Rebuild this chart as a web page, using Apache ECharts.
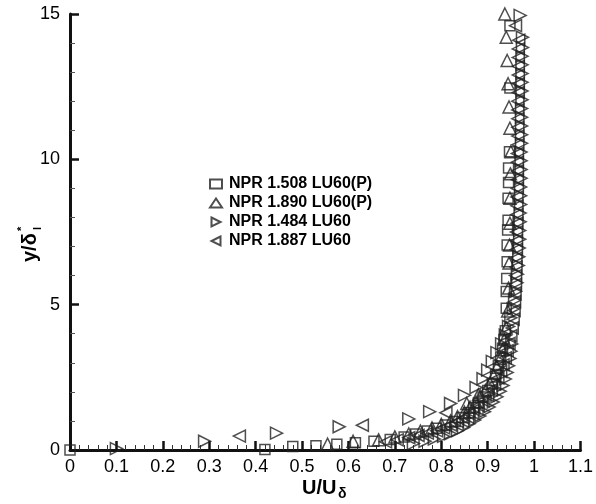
<!DOCTYPE html>
<html>
<head>
<meta charset="utf-8">
<script src="https://cdn.jsdelivr.net/npm/echarts@6/dist/echarts.min.js"></script>
<style>
  html, body { margin: 0; padding: 0; background: #fff; }
  #chart { width: 596px; height: 504px; }
</style>
</head>
<body>
<div id="chart"></div>
<script>
// Velocity profiles: [U/U_delta, y/delta*_l]
const seriesNames = ['NPR 1.508 LU60(P)', 'NPR 1.890 LU60(P)', 'NPR 1.484 LU60', 'NPR 1.887 LU60'];

const npr1508P = [
  [0.0, 0.0], [0.42, 0.02], [0.48, 0.12], [0.53, 0.15], [0.575, 0.2], [0.615, 0.25],
  [0.655, 0.3], [0.69, 0.36], [0.72, 0.45], [0.745, 0.55], [0.77, 0.65], [0.79, 0.75],
  [0.81, 0.86], [0.83, 0.98], [0.845, 1.12], [0.86, 1.28], [0.87, 1.45], [0.88, 1.62],
  [0.89, 1.82], [0.9, 2.05], [0.91, 2.3], [0.917, 2.6], [0.923, 2.9], [0.928, 3.2],
  [0.932, 3.5], [0.935, 3.8], [0.938, 4.1], [0.94, 4.88], [0.94, 5.45], [0.941, 5.9],
  [0.942, 6.48], [0.942, 7.05], [0.943, 7.57], [0.944, 7.9], [0.944, 8.66], [0.945, 9.2],
  [0.945, 9.7], [0.947, 10.26], [0.948, 12.45], [0.948, 14.6]
];

const npr1890P = [
  [0.555, 0.2], [0.61, 0.3], [0.665, 0.35], [0.70, 0.45], [0.73, 0.55], [0.755, 0.65],
  [0.78, 0.76], [0.8, 0.88], [0.82, 1.0], [0.835, 1.15], [0.85, 1.3], [0.862, 1.47],
  [0.855, 1.6], [0.88, 1.9], [0.875, 1.65], [0.885, 1.85], [0.895, 2.05], [0.905, 2.3],
  [0.913, 2.55], [0.92, 2.85], [0.927, 3.15], [0.932, 3.45], [0.936, 3.8], [0.94, 4.2],
  [0.943, 4.78], [0.945, 5.57], [0.946, 6.43], [0.947, 7.05], [0.948, 7.8], [0.948, 8.66],
  [0.949, 9.5], [0.95, 10.26], [0.948, 11.07], [0.946, 11.8], [0.944, 12.6], [0.942, 13.4],
  [0.94, 14.2], [0.937, 15.0]
];

const npr1484 = [
  [0.10, 0.05], [0.29, 0.30], [0.445, 0.58], [0.58, 0.80], [0.73, 1.07], [0.775, 1.32],
  [0.74, 0.22], [0.765, 0.3], [0.785, 0.38], [0.805, 0.47], [0.82, 0.56], [0.835, 0.66],
  [0.848, 0.77], [0.86, 0.9], [0.872, 1.03], [0.883, 1.17], [0.893, 1.32], [0.903, 1.48],
  [0.912, 1.65], [0.92, 1.83], [0.927, 2.02], [0.933, 2.22], [0.938, 2.44], [0.942, 2.67],
  [0.945, 2.9], [0.948, 3.15], [0.95, 3.4], [0.952, 3.65],
  [0.82, 1.60], [0.85, 1.88], [0.875, 2.15], [0.89, 2.45], [0.9, 2.75], [0.91, 3.05],
  [0.92, 3.35], [0.93, 3.65], [0.938, 3.95], [0.945, 4.25], [0.95, 4.55], [0.955, 4.85],
  [0.958, 5.15], [0.96, 5.45], [0.963, 5.75], [0.964, 6.05], [0.966, 6.35], [0.967, 6.65],
  [0.968, 6.95], [0.969, 7.25], [0.969, 7.55], [0.97, 7.85], [0.97, 8.15], [0.971, 8.45],
  [0.971, 8.75], [0.971, 9.05], [0.972, 9.35], [0.972, 9.65], [0.972, 9.95], [0.972, 10.25],
  [0.973, 10.55], [0.973, 10.85], [0.973, 11.15], [0.973, 11.45], [0.973, 11.75], [0.974, 12.05],
  [0.974, 12.35], [0.974, 12.65], [0.974, 12.95], [0.974, 13.25], [0.974, 13.55], [0.975, 13.85],
  [0.975, 14.2], [0.97, 14.95]
];

const npr1887 = [
  [0.365, 0.48], [0.63, 0.85], [0.81, 1.28], [0.68, 0.28], [0.705, 0.35], [0.73, 0.42],
  [0.75, 0.5], [0.77, 0.58], [0.79, 0.66], [0.805, 0.76], [0.82, 0.86], [0.835, 0.98],
  [0.848, 1.1], [0.86, 1.24], [0.87, 1.38], [0.88, 1.53], [0.89, 1.7], [0.9, 1.88],
  [0.908, 2.07], [0.915, 2.27], [0.922, 2.48], [0.928, 2.7], [0.933, 2.93], [0.938, 3.17],
  [0.942, 3.42], [0.946, 3.67], [0.95, 3.93], [0.953, 4.2], [0.955, 4.5], [0.957, 4.8],
  [0.958, 5.1], [0.959, 5.4], [0.96, 5.7], [0.96, 6.0], [0.961, 6.3], [0.961, 6.6],
  [0.962, 6.9], [0.962, 7.2], [0.962, 7.5], [0.963, 7.8], [0.963, 8.1], [0.963, 8.4],
  [0.963, 8.7], [0.964, 9.0], [0.964, 9.3], [0.964, 9.6], [0.964, 9.9], [0.964, 10.2],
  [0.965, 10.5], [0.965, 10.8], [0.965, 11.1], [0.965, 11.4], [0.965, 11.7], [0.965, 12.0],
  [0.966, 12.3], [0.966, 12.6], [0.966, 12.9], [0.966, 13.2], [0.966, 13.5], [0.966, 13.8],
  [0.967, 14.1], [0.96, 14.6]
];

const xTickLabels = ['0', '0.1', '0.2', '0.3', '0.4', '0.5', '0.6', '0.7', '0.8', '0.9', '1', '1.1'];
const yTickLabels = ['0', '5', '10', '15'];

const FONT = 'Liberation Sans, Arial, sans-serif';
const INK = '#111';

const rightTri = 'path://M0,0L10,5L0,10Z';
const leftTri = 'path://M10,0L0,5L10,10Z';
const symbols = ['rect', 'triangle', rightTri, leftTri];
const sizes = [10, 12, 12, 12];
const datasets = [npr1508P, npr1890P, npr1484, npr1887];

const chart = echarts.init(document.getElementById('chart'), null, { renderer: 'canvas' });

const option = {
  backgroundColor: '#fff',
  animation: false,
  grid: { left: 70, right: 14, top: 14, bottom: 54, containLabel: false },
  legend: {
    orient: 'vertical',
    left: 204,
    top: 171,
    itemGap: 3,
    itemWidth: 12,
    itemHeight: 9,
    data: seriesNames,
    textStyle: { fontFamily: FONT, fontWeight: 'bold', fontSize: 16, color: '#000', padding: [0, 0, 0, 2] }
  },
  xAxis: {
    type: 'value',
    min: 0, max: 1.1, interval: 0.1,
    axisLine: { show: true, onZero: false, lineStyle: { color: INK, width: 3 } },
    axisTick: { show: true, inside: true, length: 9, lineStyle: { color: INK, width: 2.5 } },
    minorTick: { show: true, splitNumber: 5, length: 5, lineStyle: { color: '#333', width: 1 } },
    splitLine: { show: false },
    axisLabel: {
      margin: 8, color: '#000', fontFamily: FONT, fontSize: 18,
      formatter: v => xTickLabels[Math.round(v * 10)]
    }
  },
  yAxis: {
    type: 'value',
    min: 0, max: 15, interval: 5,
    axisLine: { show: true, onZero: false, lineStyle: { color: INK, width: 3 } },
    axisTick: { show: true, inside: true, length: 9, lineStyle: { color: INK, width: 2.5 } },
    minorTick: { show: true, splitNumber: 5, length: 5, lineStyle: { color: '#555', width: 1 } },
    splitLine: { show: false },
    axisLabel: {
      margin: 10, color: '#000', fontFamily: FONT, fontSize: 18,
      formatter: v => yTickLabels[Math.round(v / 5)]
    }
  },
  graphic: [
    {
      // x-axis title: U/U_delta
      type: 'group', left: 302, top: 478,
      children: [
        { type: 'text', x: 0, y: 0, style: { text: 'U/U', font: 'bold 20px ' + FONT, fill: '#000' } },
        { type: 'text', x: 36, y: 9, style: { text: 'δ', font: 'bold 14px ' + FONT, fill: '#000' } }
      ]
    },
    {
      // y-axis title: y/delta*_l, rotated
      type: 'group', x: 20, y: 262, rotation: Math.PI / 2,
      children: [
        { type: 'text', x: 0, y: 0, style: { text: 'y/δ', font: 'bold 20px ' + FONT, fill: '#000' } },
        { type: 'text', x: 31, y: -4, style: { text: '*', font: 'bold 11px ' + FONT, fill: '#000' } },
        { type: 'text', x: 32, y: 12, style: { text: 'l', font: 'bold 11px ' + FONT, fill: '#000' } }
      ]
    }
  ],
  series: datasets.map((d, i) => ({
    name: seriesNames[i],
    type: 'scatter',
    data: d,
    symbol: symbols[i],
    symbolSize: sizes[i],
    itemStyle: { color: 'rgba(255,255,255,0)', borderColor: '#222', borderWidth: 1.5 },
    emphasis: { disabled: true }
  }))
};

chart.setOption(option);
</script>
</body>
</html>
